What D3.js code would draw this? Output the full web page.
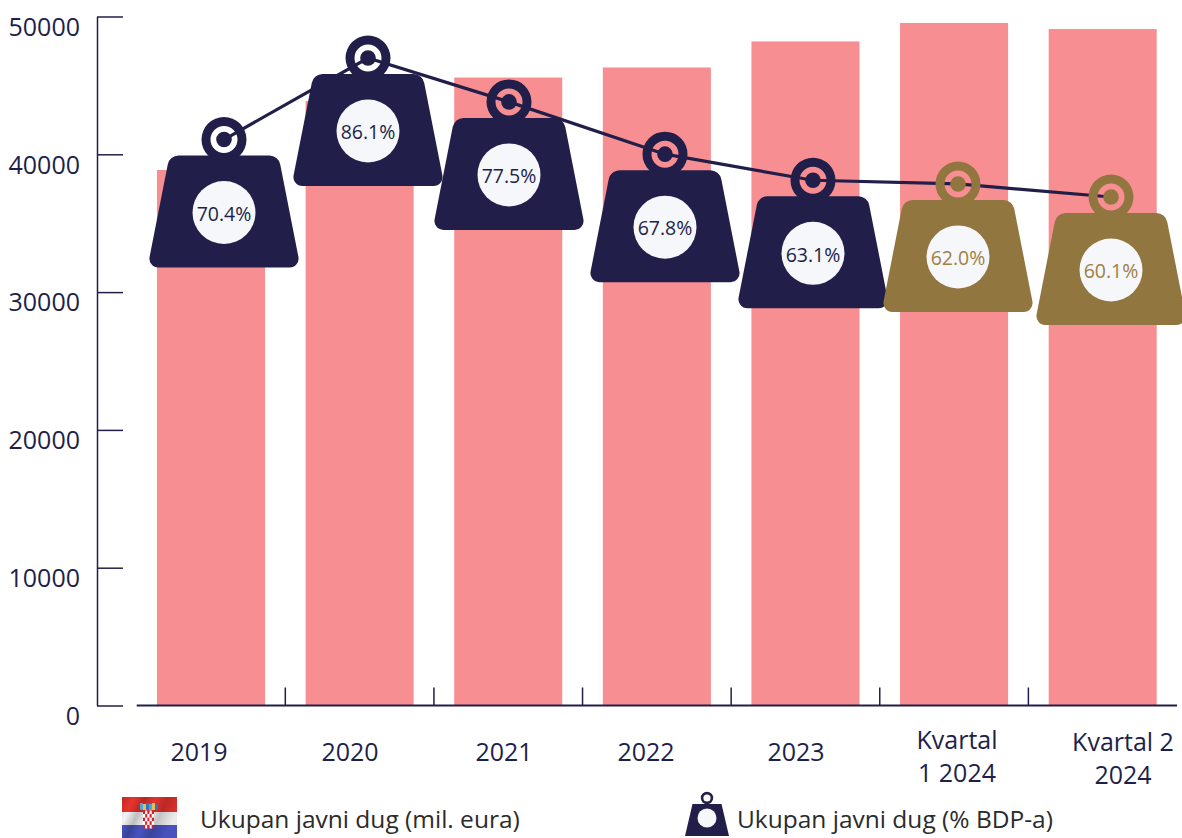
<!DOCTYPE html>
<html>
<head>
<meta charset="utf-8">
<script src="https://cdn.jsdelivr.net/npm/d3@7"></script>
<style>
  html, body { margin: 0; padding: 0; background: #fff; overflow: hidden; }
  svg { display: block; font-family: "Open Sans", sans-serif; }
</style>
</head>
<body>
<div id="chart"></div>
<script>
// data
var categories = ["2019", "2020", "2021", "2022", "2023", "Q1", "Q2"];
var debtValues = [38860, 43870, 45570, 46300, 48190, 49530, 49090];
var pctPlotted = [70.5, 86.1, 77.7, 67.7, 62.7, 62.0, 59.5];
var pctLabels = ["70.4%", "86.1%", "77.5%", "67.8%", "63.1%", "62.0%", "60.1%"];
var pctKinds = ["past", "past", "past", "past", "past", "recent", "recent"];
var yTicks = [0, 10000, 20000, 30000, 40000, 50000];
var xLabels = [["2019"], ["2020"], ["2021"], ["2022"], ["2023"], ["Kvartal", "1 2024"], ["Kvartal 2", "2024"]];

var navy = "#211f49", gold = "#927640", barColor = "#f78e91", paper = "#f5f7fa";

var width = 1182, height = 838;
var svg = d3.select("#chart").append("svg")
    .attr("width", width)
    .attr("height", height);

// scales
var x = d3.scaleBand()
    .domain(categories)
    .range([136.7, 1177])
    .paddingInner(0.273)
    .paddingOuter(0.1365);
var y = d3.scaleLinear().domain([0, 50000]).range([705.5, 16.5]);
var yPct = d3.scaleLinear().domain([59.5, 86.1]).range([197, 58]);
// the weights were placed by hand in the original, off the bar centres
var xWeight = d3.scaleOrdinal().domain(categories).range([224, 368, 509, 665, 813, 958, 1111]);
var xLabel = d3.scaleOrdinal().domain(categories).range([199, 350, 504, 646, 796, 957, 1123]);

// bars
svg.append("g").selectAll("rect")
    .data(categories)
    .join("rect")
    .attr("x", d => x(d))
    .attr("y", (d, i) => y(debtValues[i]))
    .attr("width", x.bandwidth())
    .attr("height", (d, i) => y(0) - y(debtValues[i]))
    .attr("fill", barColor);

// y axis
var yAxis = svg.append("g")
    .attr("transform", "translate(97,0)")
    .call(d3.axisLeft(y).tickValues(yTicks).tickSize(-26).tickSizeOuter(0).tickFormat(d3.format("d")));
yAxis.selectAll("path, line").attr("stroke", navy).attr("stroke-width", 1.5);
yAxis.selectAll("text")
    .attr("x", -17)
    .attr("dy", "0.75em")
    .attr("fill", navy)
    .style("font-size", "25px")
    .style("font-family", "'Open Sans', sans-serif");

// x axis
var baseline = svg.append("g");
baseline.append("line")
    .attr("x1", x.range()[0]).attr("x2", x.range()[1])
    .attr("y1", y(0)).attr("y2", y(0))
    .attr("stroke", navy).attr("stroke-width", 2);
baseline.selectAll(".sep")
    .data(categories.slice(0, -1))
    .join("line")
    .attr("class", "sep")
    .attr("x1", d => x(d) + x.bandwidth() + x.step() * 0.1365)
    .attr("x2", d => x(d) + x.bandwidth() + x.step() * 0.1365)
    .attr("y1", y(0))
    .attr("y2", y(0) - 18)
    .attr("stroke", navy).attr("stroke-width", 1.5);

var labels = svg.append("g").selectAll("text")
    .data(categories)
    .join("text")
    .attr("text-anchor", "middle")
    .attr("fill", navy)
    .style("font-size", "25px");
labels.each(function(d, i) {
    var lines = xLabels[i];
    var startY = lines.length == 1 ? 761 : 749 + (i == 6 ? 2 : 0);
    d3.select(this).selectAll("tspan")
        .data(lines)
        .join("tspan")
        .attr("x", xLabel(d))
        .attr("y", (l, j) => startY + j * 33)
        .text(l => l);
});

// line runs under the weights
var line = d3.line()
    .x((d, i) => xWeight(categories[i]))
    .y(d => yPct(d));
svg.append("path")
    .datum(pctPlotted)
    .attr("fill", "none")
    .attr("stroke", navy)
    .attr("stroke-width", 3.2)
    .attr("d", line);

// weight body, corners rounded with arcTo
function bodyPath(p) {
    var top = 16, bot = 128, ht = 54.5, hb = 76.5, r1 = 11, r2 = 9;
    p.moveTo(0, top);
    p.arcTo(ht, top, hb, bot, r1);
    p.arcTo(hb, bot, -hb, bot, r2);
    p.arcTo(-hb, bot, -ht, top, r2);
    p.arcTo(-ht, top, 0, top, r1);
    p.closePath();
    return p;
}
function ringPath(p, r, rHole) {
    p.moveTo(r, 0);
    p.arc(0, 0, r, 0, Math.PI * 2);
    p.moveTo(rHole, 0);
    p.arc(0, 0, rHole, 0, Math.PI * 2, true);
    return p;
}

var weights = svg.append("g").selectAll("g")
    .data(categories)
    .join("g")
    .attr("transform", (d, i) => "translate(" + xWeight(d) + "," + yPct(pctPlotted[i]) + ")");
weights.append("path")
    .attr("d", ringPath(d3.path(), 22.5, 13.5).toString())
    .attr("fill", (d, i) => pctKinds[i] == "past" ? navy : gold);
weights.append("circle")
    .attr("r", 7.8)
    .attr("fill", (d, i) => pctKinds[i] == "past" ? navy : gold);
weights.append("path")
    .attr("d", bodyPath(d3.path()).toString())
    .attr("fill", (d, i) => pctKinds[i] == "past" ? navy : gold);
weights.append("circle")
    .attr("cy", 73)
    .attr("r", 31.5)
    .attr("fill", paper);
weights.append("text")
    .attr("y", 74.5)
    .attr("dy", "0.35em")
    .attr("text-anchor", "middle")
    .attr("fill", (d, i) => pctKinds[i] == "past" ? navy : "#a07f45")
    .style("font-size", "19.5px")
    .text((d, i) => pctLabels[i]);

// legend: flag
var flag = svg.append("g").attr("transform", "translate(122,797)");
var defs = svg.append("defs");
var wave = defs.append("linearGradient").attr("id", "wave").attr("x2", "1").attr("y2", "0.35");
[[0, 0.18], [0.2, 0], [0.38, 0.22], [0.55, 0.02], [0.75, 0.2], [1, 0.04]].forEach(function(s) {
    wave.append("stop").attr("offset", s[0]).attr("stop-color", "#000").attr("stop-opacity", s[1]);
});
flag.append("rect").attr("width", 55).attr("height", 15).attr("fill", "#e8332e");
flag.append("rect").attr("y", 15).attr("width", 55).attr("height", 13).attr("fill", "#f4f4f4");
flag.append("rect").attr("y", 28).attr("width", 55).attr("height", 13).attr("fill", "#4a55c4");
flag.append("rect").attr("width", 55).attr("height", 41).attr("fill", "url(#wave)");
// crest above the shield
["#4fa3d9", "#e3c04b", "#3b6fc0", "#4fa3d9", "#e3c04b", "#3b6fc0"].forEach(function(c, k) {
    flag.append("rect")
        .attr("x", 18 + k * 3)
        .attr("y", 6 + (k % 2))
        .attr("width", 3)
        .attr("height", 7 - (k % 2))
        .attr("fill", c);
});
d3.range(25).forEach(function(k) {
    flag.append("rect")
        .attr("x", 21 + (k % 5) * 2.2)
        .attr("y", 13.5 + Math.floor(k / 5) * 3.6)
        .attr("width", 2.2)
        .attr("height", 3.6)
        .attr("fill", k % 2 ? "#fff" : "#d8202a");
});

svg.append("text")
    .attr("x", 200).attr("y", 828)
    .attr("fill", "#2b2b2b")
    .style("font-size", "24.5px")
    .text("Ukupan javni dug (mil. eura)");

// legend: small weight
var icon = svg.append("g").attr("transform", "translate(707,798)");
icon.append("path").attr("d", ringPath(d3.path(), 6.2, 3.6).toString()).attr("fill", navy);
icon.append("path")
    .attr("d", "M-14.5,6L14.5,6L22,38L-22,38Z")
    .attr("fill", navy);
icon.append("circle").attr("cy", 20).attr("r", 9.5).attr("fill", paper);

svg.append("text")
    .attr("x", 737).attr("y", 828)
    .attr("fill", "#2b2b2b")
    .style("font-size", "24.5px")
    .text("Ukupan javni dug (% BDP-a)");
</script>
</body>
</html>
